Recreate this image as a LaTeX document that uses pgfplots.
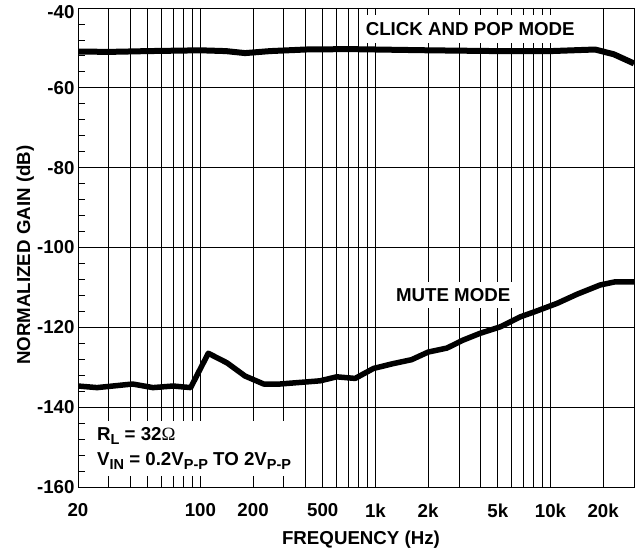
\documentclass[border=0pt]{standalone}
\usepackage{fontspec}
\setmainfont{Liberation Sans}
\newfontfamily\symfont{Liberation Serif}
\usepackage{pgfplots}
\usetikzlibrary{calc}
\pgfplotsset{compat=1.18}
\newcommand{\sub}[1]{\raisebox{-4pt}{\fontsize{14.5}{14.5}\selectfont #1}}
\begin{document}
\begin{tikzpicture}[font=\fontsize{18.7}{21}\selectfont\bfseries]
\begin{axis}[
  scale only axis, width=556pt, height=479pt,
  xmode=log, xmin=20, xmax=30000, ymin=-160, ymax=-40,
  axis line style={line width=0.9pt},
  xtick={20,100,200,500,1000,2000,5000,10000,20000},
  xticklabels={20,100,200,500,1k,2k,5k,10k,20k},
  minor xtick={30,40,50,60,70,80,90,300,400,600,700,800,900,3000,4000,6000,7000,8000,9000},
  xmajorgrids, xminorgrids, ymajorgrids,
  ytick={-160,-140,-120,-100,-80,-60,-40},
  yticklabels={-160,-140,-120,-100,-80,-60,{}},
  extra y ticks={-40},
  extra y tick labels={-40},
  extra y tick style={yticklabel style={yshift=-4pt}},
  minor y tick num=4,
  ytick pos=left,
  tick align=inside,
  minor tick length=7pt, major tick length=7pt,
  tick style={black, line width=0.8pt},
  grid style={black, line width=0.8pt},
  minor grid style={black, line width=0.8pt},
  xticklabel style={yshift=-13pt},
  xlabel={FREQUENCY (Hz)},
  ylabel={NORMALIZED GAIN (dB)},
  xlabel style={at={(axis description cs:0.509,-0.1106)}, anchor=center},
  ylabel style={at={(axis description cs:-0.095,0.484)}, anchor=center},
]
\addplot[black, line width=6pt, line join=round, mark=none] coordinates {
(20,-50.9) (30,-51.0) (50,-50.8) (100,-50.6) (140,-50.8) (180,-51.3) (250,-50.8)
(400,-50.4) (700,-50.3) (1000,-50.4) (2000,-50.6) (5000,-50.8) (10000,-50.8)
(18000,-50.4) (23000,-51.6) (30000,-53.9)};
\addplot[black, line width=5.5pt, line join=round, mark=none] coordinates {
(20,-134.7) (25.7,-135.1) (41,-134.2) (53.6,-135.1) (70,-134.7) (88,-135.1)
(111,-126.5) (142,-128.9) (180,-132.2) (230,-134.2) (285,-134.2) (483,-133.4)
(601,-132.4) (766,-132.8) (975,-130.3) (1260,-129.1) (1610,-128.1) (2000,-126.2)
(2560,-125.2) (3170,-123.2) (3960,-121.5) (5150,-119.9) (6700,-117.4) (8350,-115.9)
(10900,-114.0) (14200,-111.7) (19200,-109.4) (23400,-108.6) (30000,-108.6)};
\node[fill=white, inner xsep=2pt, inner ysep=7.5pt] at (axis cs:3480,-45.3) {CLICK AND POP MODE};
\node[fill=white, inner xsep=2pt, inner ysep=6pt] at (axis cs:2780,-111.9) {MUTE MODE};
\node[anchor=north west, fill=white, align=left, inner xsep=12pt, inner ysep=6.5pt,
      font=\fontsize{18.7}{25}\selectfont\bfseries] at (axis cs:21.9,-143.3)
  {R\sub{L} = 32{\symfont\mdseries Ω}\\V\sub{IN} = 0.2V\sub{P-P} TO 2V\sub{P-P}};
\coordinate (SW) at (rel axis cs:0,0);
\coordinate (NE) at (rel axis cs:1,1);
\end{axis}
\pgfresetboundingbox
\path[use as bounding box] ($(SW)+(-78pt,-66pt)$) rectangle ($(NE)+(7pt,8pt)$);
\end{tikzpicture}
\end{document}
